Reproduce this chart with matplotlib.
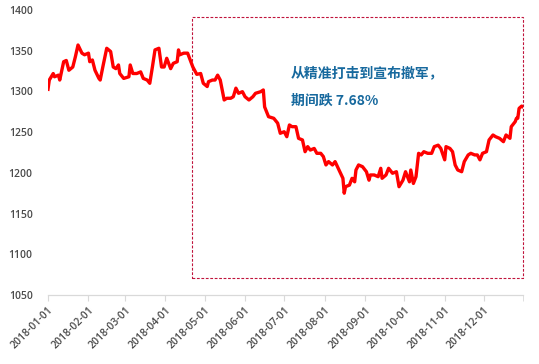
import matplotlib
matplotlib.use("Agg")
import matplotlib.pyplot as plt
import matplotlib.dates as mdates
from matplotlib.patches import Rectangle
import pandas as pd

# ---- data ----
start_date = "2018-01-01"
day_offsets = [0, 1, 4, 5, 8, 9, 12, 14, 16, 19, 21, 23, 26, 28, 31, 32, 34, 36, 39, 40,
               42, 45, 48, 50, 52, 54, 55, 58, 62, 63, 65, 68, 71, 73, 76, 78, 80, 82, 85, 87,
               89, 91, 94, 96, 99, 100, 101, 104, 107, 109, 111, 114, 117, 119, 122, 123, 126, 128, 130, 132,
               135, 137, 140, 142, 144, 146, 149, 151, 154, 157, 159, 163, 165, 166, 169, 173, 176, 178, 181, 183,
               185, 187, 190, 192, 195, 197, 199, 201, 204, 206, 209, 211, 213, 215, 218, 220, 223, 226, 227, 228,
               231, 233, 235, 236, 238, 241, 244, 246, 247, 250, 253, 255, 256, 259, 261, 264, 267, 269, 272, 274,
               277, 278, 280, 282, 284, 286, 288, 291, 294, 296, 299, 301, 304, 305, 308, 310, 312, 314, 317, 319,
               322, 324, 327, 329, 331, 333, 336, 338, 341, 343, 346, 349, 351, 354, 355, 358, 359, 360, 361, 363, 364]
prices = [1302.6, 1314, 1322, 1318, 1320, 1314, 1336.5, 1338, 1326, 1330, 1342.7, 1357, 1347, 1345, 1347, 1336.5, 1338.6, 1326, 1316, 1314,
          1330, 1353, 1349, 1330, 1328, 1332.5, 1322, 1316, 1318, 1332.5, 1322, 1322, 1324, 1316, 1314, 1310, 1330, 1351, 1353, 1330,
          1330, 1340.7, 1328, 1334.5, 1336.5, 1351, 1345, 1347, 1347, 1338.6, 1330, 1321, 1322, 1310, 1306, 1312, 1314, 1314, 1320, 1314,
          1289.5, 1291.6, 1291.6, 1293.5, 1304, 1297.7, 1299.7, 1293.5, 1289.5, 1293.5, 1297.7, 1299.7, 1301.8, 1281, 1269, 1267, 1261, 1248.6, 1250.5, 1244.4,
          1258.8, 1256.7, 1256.7, 1242.4, 1240.4, 1226, 1232.2, 1228, 1230, 1224, 1224, 1220, 1209.7, 1213.8, 1209.7, 1213.8, 1203.5, 1193.3, 1175, 1183,
          1185, 1193.3, 1189, 1203.5, 1209.7, 1207.6, 1201.4, 1191, 1197.4, 1197.4, 1195.3, 1205.6, 1193.3, 1197.4, 1205.6, 1199.5, 1201.4, 1183, 1191, 1201.4,
          1189, 1203.5, 1187, 1195.3, 1224, 1222, 1226, 1224, 1224, 1232.2, 1234, 1230, 1216, 1232.2, 1230, 1226, 1209.7, 1203.5, 1201.4, 1213.8,
          1222, 1224, 1222, 1222, 1216, 1224, 1226, 1240.4, 1246.5, 1244.4, 1242.4, 1238.3, 1246.5, 1242.4, 1256.7, 1262.8, 1267, 1267, 1279.2, 1282, 1281]

tick_labels = ["2018-01-01", "2018-02-01", "2018-03-01", "2018-04-01", "2018-05-01", "2018-06-01",
               "2018-07-01", "2018-08-01", "2018-09-01", "2018-10-01", "2018-11-01", "2018-12-01"]
y_ticks = [1050, 1100, 1150, 1200, 1250, 1300, 1350, 1400]
note_line1 = "从精准打击到宣布撤军，"
note_line2 = "期间跌 7.68%"

dates = pd.Timestamp(start_date) + pd.to_timedelta(day_offsets, unit="D")

# ---- figure ----
fig = plt.figure(figsize=(5.39, 3.64), dpi=100)
ax = fig.add_axes([48 / 539, 1 - 295 / 364, (523 - 48) / 539, (295 - 10) / 364])

ax.plot(dates, prices, color="#FF0000", lw=2.4, solid_joinstyle="round")

ax.set_xlim(pd.Timestamp("2018-01-01"), pd.Timestamp("2018-12-31"))
ax.set_ylim(1050, 1400)

tick_dates = pd.to_datetime(tick_labels)
ax.set_xticks(tick_dates)
ax.set_xticks([pd.Timestamp("2018-12-31")], minor=True)
ax.set_xticklabels(tick_labels, rotation=45, ha="right", rotation_mode="anchor",
                   fontsize=7.5, color="#4A4A4A", family="Open Sans", fontweight="semibold")
ax.set_yticks(y_ticks)
ax.set_yticklabels([str(v) for v in y_ticks], fontsize=7.5, color="#4A4A4A",
                   family="Open Sans", fontweight="semibold")

ax.tick_params(axis="y", length=0, pad=11)
ax.tick_params(axis="x", which="both", length=4, color="#D9D9D9", pad=3)

for s in ["top", "right", "left"]:
    ax.spines[s].set_visible(False)
ax.spines["bottom"].set_color("#D9D9D9")
ax.spines["bottom"].set_linewidth(0.9)

# dashed highlight box
rect_x0 = mdates.date2num(pd.Timestamp("2018-04-21"))
rect_x1 = mdates.date2num(pd.Timestamp("2018-12-31"))
ax.add_patch(Rectangle((rect_x0, 1070.5), rect_x1 - rect_x0, 1391 - 1070.5,
                       fill=False, edgecolor="#C0143C", lw=0.8, linestyle=(0, (2.5, 1.5)),
                       clip_on=False, zorder=1))

fam = ["Noto Sans CJK SC", "DejaVu Sans"]
ax.text(pd.Timestamp("2018-07-06"), 1322.6, note_line1, fontsize=10, fontweight="bold",
        color="#17699E", family=fam, va="center", ha="left")
ax.text(pd.Timestamp("2018-07-06"), 1288.6, note_line2, fontsize=10, fontweight="bold",
        color="#17699E", family=fam, va="center", ha="left")

fig.savefig("out.png", dpi=100)
